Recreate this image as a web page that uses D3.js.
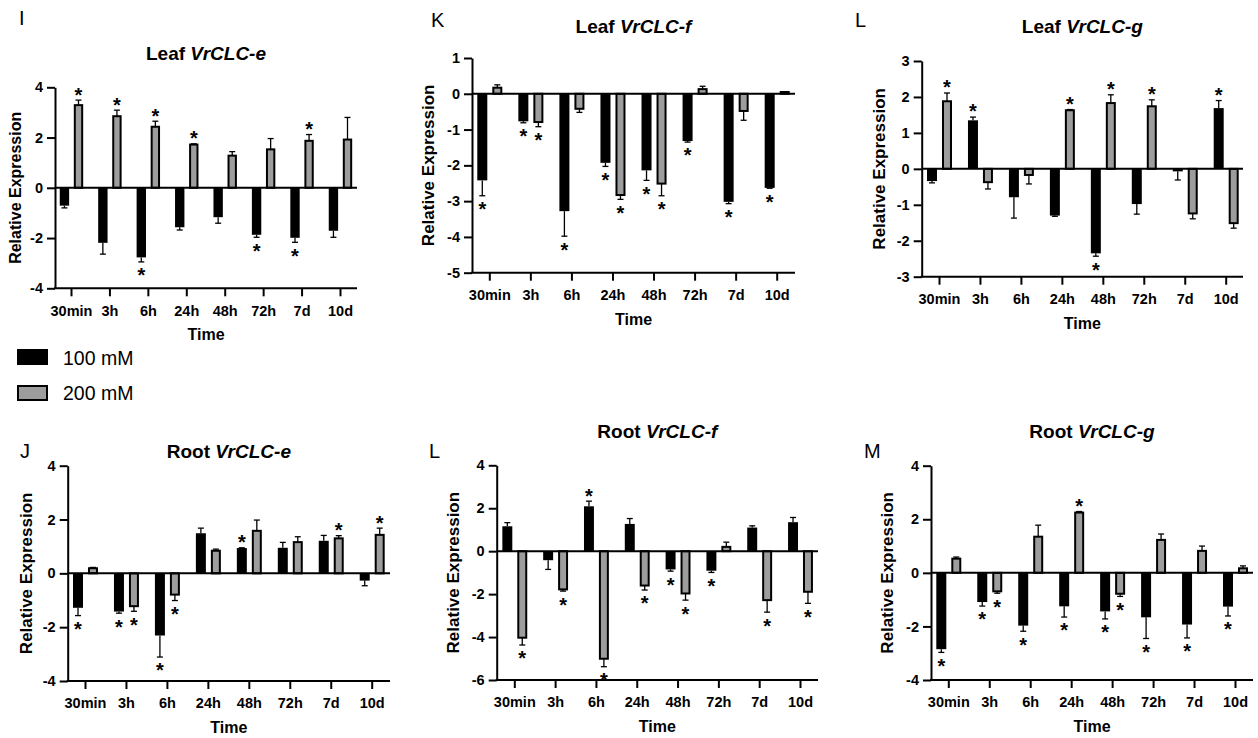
<!DOCTYPE html>
<html lang="en">
<head>
<meta charset="utf-8">
<title>VrCLC relative expression</title>
<script src="https://d3js.org/d3.v7.min.js"></script>
<style>
  body { margin: 0; background: #fff; }
  text { font-family: "Liberation Sans", Arial, Helvetica, sans-serif; fill: #000; }
</style>
</head>
<body>
<script>

// ---- data ----

var times = ["30min", "3h", "6h", "24h", "48h", "72h", "7d", "10d"];
var groups = ["100 mM", "200 mM"];

// Leaf VrCLC-e
var leafE100    = [-0.71, -2.19, -2.77, -1.57, -1.17, -1.87, -1.99, -1.71];
var leafE100Err = [0.09, 0.45, 0.18, 0.11, 0.24, 0.10, 0.18, 0.26];
var leafE100Sig = [0, 0, 1, 0, 0, 1, 1, 0];
var leafE200    = [3.29, 2.85, 2.43, 1.72, 1.28, 1.53, 1.87, 1.92];
var leafE200Err = [0.20, 0.24, 0.22, 0.03, 0.16, 0.43, 0.25, 0.88];
var leafE200Sig = [1, 1, 1, 1, 0, 0, 1, 0];

// Leaf VrCLC-f
var leafF100    = [-2.42, -0.77, -3.28, -1.93, -2.14, -1.32, -3.02, -2.63];
var leafF100Err = [0.43, 0.04, 0.70, 0.10, 0.28, 0.03, 0.05, 0.01];
var leafF100Sig = [1, 1, 1, 1, 1, 1, 1, 1];
var leafF200    = [0.17, -0.79, -0.42, -2.83, -2.51, 0.13, -0.48, 0.05];
var leafF200Err = [0.08, 0.13, 0.10, 0.12, 0.34, 0.08, 0.26, 0.01];
var leafF200Sig = [0, 1, 0, 1, 1, 0, 0, 0];

// Leaf VrCLC-g
var leafG100    = [-0.34, 1.35, -0.79, -1.30, -2.35, -0.98, -0.07, 1.69];
var leafG100Err = [0.05, 0.09, 0.58, 0.02, 0.08, 0.28, 0.24, 0.21];
var leafG100Sig = [0, 1, 0, 0, 1, 0, 0, 1];
var leafG200    = [1.88, -0.37, -0.17, 1.63, 1.83, 1.74, -1.24, -1.51];
var leafG200Err = [0.23, 0.19, 0.25, 0.02, 0.23, 0.18, 0.15, 0.14];
var leafG200Sig = [1, 0, 0, 1, 1, 1, 0, 0];

// Root VrCLC-e
var rootE100    = [-1.28, -1.42, -2.31, 1.49, 0.94, 0.95, 1.21, -0.27];
var rootE100Err = [0.29, 0.06, 0.80, 0.19, 0.01, 0.20, 0.20, 0.19];
var rootE100Sig = [1, 1, 1, 0, 1, 0, 0, 0];
var rootE200    = [0.19, -1.22, -0.79, 0.84, 1.58, 1.16, 1.30, 1.43];
var rootE200Err = [0.03, 0.19, 0.22, 0.06, 0.40, 0.20, 0.10, 0.25];
var rootE200Sig = [0, 1, 1, 0, 0, 0, 1, 1];

// Root VrCLC-f
var rootF100    = [1.16, -0.42, 2.09, 1.27, -0.85, -0.91, 1.10, 1.35];
var rootF100Err = [0.17, 0.43, 0.24, 0.25, 0.08, 0.08, 0.08, 0.22];
var rootF100Sig = [0, 0, 1, 0, 1, 1, 0, 0];
var rootF200    = [-4.03, -1.78, -5.01, -1.60, -1.97, 0.20, -2.28, -1.89];
var rootF200Err = [0.34, 0.08, 0.37, 0.21, 0.31, 0.22, 0.56, 0.54];
var rootF200Sig = [1, 1, 1, 1, 1, 0, 1, 1];

// Root VrCLC-g
var rootG100    = [-2.85, -1.09, -1.97, -1.25, -1.44, -1.66, -1.93, -1.26];
var rootG100Err = [0.12, 0.15, 0.21, 0.40, 0.28, 0.79, 0.50, 0.35];
var rootG100Sig = [1, 1, 1, 1, 1, 1, 1, 1];
var rootG200    = [0.53, -0.69, 1.35, 2.25, -0.78, 1.23, 0.82, 0.17];
var rootG200Err = [0.06, 0.07, 0.43, 0.04, 0.10, 0.22, 0.18, 0.09];
var rootG200Sig = [0, 1, 0, 1, 1, 0, 0, 0];

// ---- layout ----

var w = 1258, h = 738;
var gray = "#9d9d9d";
var font = '"Liberation Sans", Arial, Helvetica, sans-serif';

var svg = d3.select("body").append("svg")
    .attr("width", w)
    .attr("height", h);

var panels = [
  {letter: "I", organ: "Leaf", gene: "VrCLC-e",
   series: [[leafE100, leafE100Err, leafE100Sig], [leafE200, leafE200Err, leafE200Sig]],
   x0: 55, x1: 357, c0: 71, c1: 340, yTop: 87.3, yBot: 288.3, domain: [-4, 4], step: 2,
   lx: 19, ly: 25, titleY: 60, labelX: 15, labelSize: 16},
  {letter: "K", organ: "Leaf", gene: "VrCLC-f",
   series: [[leafF100, leafF100Err, leafF100Sig], [leafF200, leafF200Err, leafF200Sig]],
   x0: 472, x1: 795, c0: 489.3, c1: 776.7, yTop: 58, yBot: 272.7, domain: [-5, 1], step: 1,
   lx: 431, ly: 27, titleY: 33, labelX: 428, labelSize: 17},
  {letter: "L", organ: "Leaf", gene: "VrCLC-g",
   series: [[leafG100, leafG100Err, leafG100Sig], [leafG200, leafG200Err, leafG200Sig]],
   x0: 921.7, x1: 1243, c0: 939, c1: 1225.7, yTop: 61, yBot: 276.7, domain: [-3, 3], step: 1,
   lx: 855, ly: 27, titleY: 33, labelX: 879, labelSize: 17},
  {letter: "J", organ: "Root", gene: "VrCLC-e",
   series: [[rootE100, rootE100Err, rootE100Sig], [rootE200, rootE200Err, rootE200Sig]],
   x0: 67.7, x1: 390, c0: 85, c1: 371.7, yTop: 465.7, yBot: 681, domain: [-4, 4], step: 2,
   lx: 20, ly: 458, titleY: 458, labelX: 26, labelSize: 17},
  {letter: "L", organ: "Root", gene: "VrCLC-f",
   series: [[rootF100, rootF100Err, rootF100Sig], [rootF200, rootF200Err, rootF200Sig]],
   x0: 496.7, x1: 818, c0: 514.3, c1: 800, yTop: 465.3, yBot: 680, domain: [-6, 4], step: 2,
   lx: 429, ly: 458, titleY: 438, labelX: 453, labelSize: 17},
  {letter: "M", organ: "Root", gene: "VrCLC-g",
   series: [[rootG100, rootG100Err, rootG100Sig], [rootG200, rootG200Err, rootG200Sig]],
   x0: 931, x1: 1253, c0: 948.3, c1: 1235, yTop: 465.7, yBot: 680, domain: [-4, 4], step: 2,
   lx: 864, ly: 458, titleY: 438, labelX: 887.5, labelSize: 17}
];

// bar offsets from the tick (for a 41px step), per series
var barOff = [-12, 3];
var barW = 10;
var starSize = 20;

function drawPanel(p) {
  var g = svg.append("g");

  var y = d3.scaleLinear().domain(p.domain).range([p.yBot, p.yTop]);
  var x = d3.scalePoint().domain(times).range([p.c0, p.c1]);
  var k = x.step() / 41;

  // bars + error bars + asterisks
  p.series.forEach(function (s, si) {
    var vals = s[0], errs = s[1], sigs = s[2];
    var sg = g.append("g");

    sg.selectAll("rect")
      .data(vals)
      .enter().append("rect")
        .attr("x", (d, i) => x(times[i]) + barOff[si] * k + (si ? 1 : 0))
        .attr("y", d => Math.min(y(d), y(0)))
        .attr("width", barW * k - (si ? 2 : 0))
        .attr("height", d => Math.abs(y(d) - y(0)))
        .attr("fill", si ? gray : "#000")
        .attr("stroke", si ? "#000" : "none")
        .attr("stroke-width", 2);

    var cx = (i) => x(times[i]) + (barOff[si] + barW / 2) * k;
    var yEnd = (d, i) => y(d + (d >= 0 ? 1 : -1) * errs[i]);

    sg.selectAll("line.stem")
      .data(vals)
      .enter().append("line")
        .attr("class", "stem")
        .attr("x1", (d, i) => cx(i))
        .attr("x2", (d, i) => cx(i))
        .attr("y1", d => y(d))
        .attr("y2", yEnd)
        .attr("stroke", "#000")
        .attr("stroke-width", 1.3);

    sg.selectAll("line.cap")
      .data(vals)
      .enter().append("line")
        .attr("class", "cap")
        .attr("x1", (d, i) => cx(i) - 3)
        .attr("x2", (d, i) => cx(i) + 3)
        .attr("y1", yEnd)
        .attr("y2", yEnd)
        .attr("stroke", "#000")
        .attr("stroke-width", 1.3);

    // significance marks just beyond the error bar
    sg.selectAll("text.star")
      .data(vals.map((d, i) => ({v: d, i: i})).filter(o => sigs[o.i]))
      .enter().append("text")
        .attr("class", "star")
        .attr("x", o => cx(o.i))
        .attr("y", o => yEnd(o.v, o.i) + (o.v >= 0 ? -10 : 9) + 0.57 * starSize)
        .attr("text-anchor", "middle")
        .style("font-size", starSize + "px")
        .style("font-weight", "bold")
        .text("*");
  });

  // zero line
  g.append("line")
    .attr("x1", p.x0).attr("x2", p.x1)
    .attr("y1", y(0)).attr("y2", y(0))
    .attr("stroke", "#000").attr("stroke-width", 2);

  // y axis
  var yAxis = d3.axisLeft(y)
    .tickValues(d3.range(p.domain[0], p.domain[1] + 0.001, p.step))
    .tickFormat(d => String(d))
    .tickSize(8).tickSizeOuter(0).tickPadding(4);

  var ya = g.append("g")
    .attr("transform", "translate(" + p.x0 + ",0)")
    .call(yAxis);

  // x axis at the bottom
  var xAxis = d3.axisBottom(x)
    .tickSize(8).tickSizeOuter(0).tickPadding(9);

  var xa = g.append("g")
    .attr("transform", "translate(0," + p.yBot + ")")
    .call(xAxis);
  xa.select(".domain").remove();
  xa.append("line")
    .attr("x1", p.x0 - 1).attr("x2", p.x1)
    .attr("stroke", "#000").attr("stroke-width", 2);

  [ya, xa].forEach(function (a) {
    a.selectAll("path, line").attr("stroke", "#000").attr("stroke-width", 2);
    a.selectAll("text")
      .attr("fill", "#000")
      .style("font-family", font)
      .style("font-size", "14.5px")
      .style("font-weight", "bold");
  });

  var mid = (p.x0 + p.x1) / 2;

  // title
  var t = g.append("text")
    .attr("x", mid).attr("y", p.titleY)
    .attr("text-anchor", "middle")
    .style("font-size", "19px")
    .style("font-weight", "bold");
  t.append("tspan").text(p.organ + " ");
  t.append("tspan").style("font-style", "italic").text(p.gene);

  // panel letter
  g.append("text")
    .attr("x", p.lx).attr("y", p.ly)
    .style("font-size", "20px")
    .text(p.letter);

  // axis titles
  g.append("text")
    .attr("transform", "translate(" + p.labelX + "," + ((p.yTop + p.yBot) / 2) + ") rotate(-90)")
    .attr("text-anchor", "middle")
    .attr("dy", "0.35em")
    .style("font-size", p.labelSize + "px")
    .style("font-weight", "bold")
    .text("Relative Expression");

  g.append("text")
    .attr("x", mid).attr("y", p.yBot + 52)
    .attr("text-anchor", "middle")
    .style("font-size", "16px")
    .style("font-weight", "bold")
    .text("Time");
}

panels.forEach(drawPanel);

// legend
var legend = svg.append("g");
legend.selectAll("rect")
  .data(groups)
  .enter().append("rect")
    .attr("x", (d, i) => i ? 18 : 17)
    .attr("y", (d, i) => i ? 386 : 349)
    .attr("width", (d, i) => i ? 29 : 31)
    .attr("height", (d, i) => i ? 14 : 16)
    .attr("fill", (d, i) => i ? gray : "#000")
    .attr("stroke", (d, i) => i ? "#000" : "none")
    .attr("stroke-width", 2);

legend.selectAll("text")
  .data(groups)
  .enter().append("text")
    .attr("x", 63)
    .attr("y", (d, i) => i ? 400 : 365)
    .style("font-size", "19.5px")
    .text(d => d);

</script>
</body>
</html>
